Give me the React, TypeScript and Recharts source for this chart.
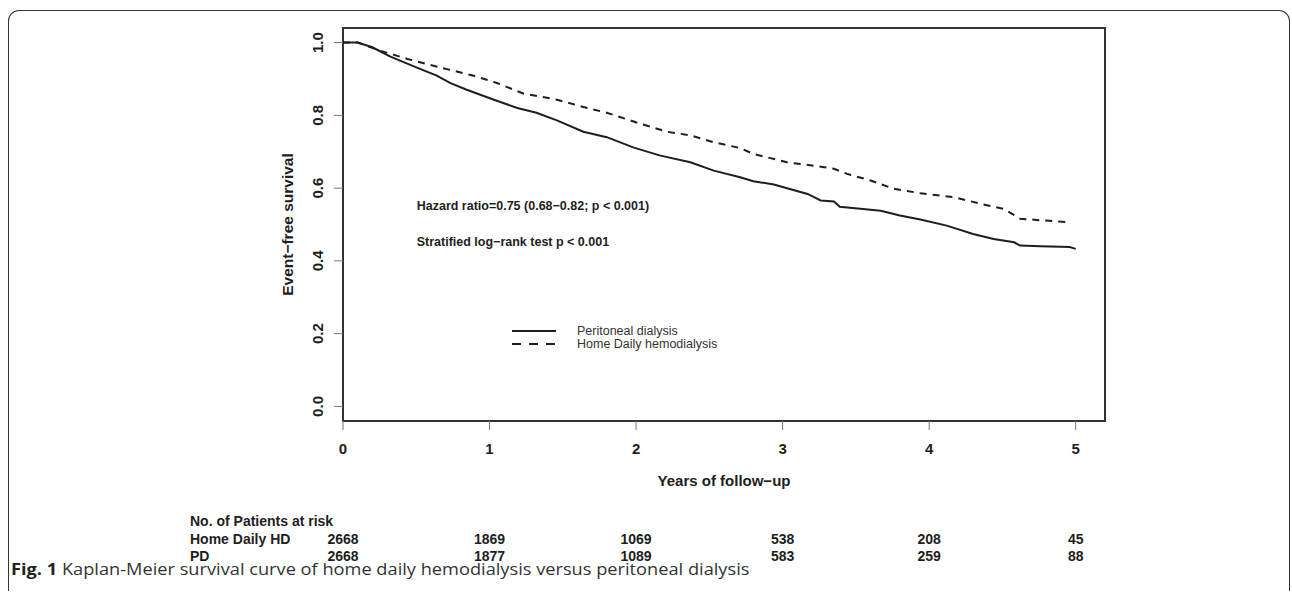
import React from 'react';
import {
  LineChart,
  Line,
  XAxis,
  YAxis,
  ReferenceArea,
  ReferenceDot,
  Legend,
} from 'recharts';

// Kaplan-Meier curves (years, event-free survival)
const pdYears = [0, 0.1, 0.2, 0.32, 0.5, 0.64, 0.73, 0.84, 1.03, 1.19, 1.32, 1.46, 1.64, 1.8, 1.98, 2.16, 2.37, 2.53, 2.71, 2.8, 2.94, 3.17, 3.26, 3.35, 3.39, 3.67, 3.8, 3.94, 4.12, 4.3, 4.44, 4.58, 4.62, 4.76, 4.96, 5.0];
const pdSurvival = [1.0, 1.0, 0.987, 0.962, 0.932, 0.909, 0.889, 0.871, 0.843, 0.82, 0.807, 0.786, 0.755, 0.74, 0.712, 0.69, 0.671, 0.648, 0.63, 0.619, 0.61, 0.584, 0.566, 0.563, 0.549, 0.538, 0.525, 0.514, 0.497, 0.474, 0.46, 0.451, 0.442, 0.44, 0.438, 0.433];

const hdYears = [0, 0.1, 0.18, 0.25, 0.44, 0.66, 0.89, 1.05, 1.23, 1.46, 1.64, 1.8, 2.03, 2.21, 2.37, 2.53, 2.71, 2.8, 3.03, 3.26, 3.35, 3.44, 3.6, 3.76, 3.94, 4.17, 4.35, 4.51, 4.62, 4.75, 4.96];
const hdSurvival = [1.0, 1.0, 0.988, 0.978, 0.955, 0.932, 0.909, 0.889, 0.86, 0.843, 0.823, 0.807, 0.777, 0.755, 0.745, 0.726, 0.71, 0.694, 0.671, 0.659, 0.653, 0.639, 0.621, 0.598, 0.586, 0.575, 0.557, 0.543, 0.516, 0.512, 0.506];

const yearTicks = [0, 1, 2, 3, 4, 5];
const survivalTicks = [0, 0.2, 0.4, 0.6, 0.8, 1.0];

// number at risk at each tick year
const hdAtRisk = [2668, 1869, 1069, 538, 208, 45];
const pdAtRisk = [2668, 1877, 1089, 583, 259, 88];

const pdName = 'Peritoneal dialysis';
const hdName = 'Home Daily hemodialysis';
const legendOrder = [pdName, hdName];

const pdData = pdYears.map((t, i) => ({ t, s: pdSurvival[i] }));
const hdData = hdYears.map((t, i) => ({ t, s: hdSurvival[i] }));
const hdRiskData = yearTicks.map((t, i) => ({ t, n: hdAtRisk[i] }));
const pdRiskData = yearTicks.map((t, i) => ({ t, n: pdAtRisk[i] }));

const FONT = '"Liberation Sans", Arial, Helvetica, sans-serif';
const INK = '#1e1e1e';
const HD_DASH = '7 6';

const YTick = ({ x, y, payload }: any) => (
  <text
    x={x}
    y={y}
    transform={`rotate(-90, ${x}, ${y})`}
    textAnchor="middle"
    fontFamily={FONT}
    fontWeight="bold"
    fontSize={15}
    fill={INK}
  >
    {Number(payload.value).toFixed(1)}
  </text>
);

const riskTick = (counts: number[], rowLabel: string, header?: string) => ({ x, y, payload }: any) => {
  const i = Math.round(payload.value);
  const txt = { fontFamily: FONT, fontWeight: 'bold' as const, fontSize: 14, fill: INK };
  return (
    <g>
      {i === 0 && header && (
        <text x={x - 153} y={y + 25} textAnchor="start" {...txt}>{header}</text>
      )}
      {i === 0 && (
        <text x={x - 153} y={y + 43} textAnchor="start" {...txt}>{rowLabel}</text>
      )}
      <text x={x} y={y + 43} textAnchor="middle" {...txt}>{counts[i]}</text>
    </g>
  );
};

const renderLegend = ({ payload }: any) => {
  const items = (payload || [])
    .filter((e: any) => legendOrder.includes(e.value))
    .sort((a: any, b: any) => legendOrder.indexOf(a.value) - legendOrder.indexOf(b.value));
  return (
    <div style={{ fontFamily: FONT, fontSize: 12.5, color: '#333' }}>
      {items.map((entry: any) => (
        <div key={entry.value} style={{ display: 'flex', alignItems: 'center', height: 13.5 }}>
          <svg width={44} height={6} style={{ marginRight: 21 }}>
            <line
              x1={0}
              x2={44}
              y1={3}
              y2={3}
              stroke={INK}
              strokeWidth={2}
              strokeDasharray={entry.value === hdName ? '9 8' : undefined}
            />
          </svg>
          <span>{entry.value}</span>
        </div>
      ))}
    </div>
  );
};

export default function App() {
  return (
    <div style={{ position: 'absolute', left: 0, top: 0, width: 1292, height: 603, background: '#fff', overflow: 'hidden' }}>
      <div
        style={{
          position: 'absolute',
          left: 8,
          top: 10,
          width: 1280,
          height: 580,
          borderTop: '1.5px solid #333',
          borderLeft: '1.5px solid #333',
          borderRight: '1.5px solid #333',
          borderTopLeftRadius: 11,
          borderTopRightRadius: 11,
        }}
      />
      <div style={{ position: 'absolute', left: 0, top: 0 }}>
        <LineChart width={1292} height={603} margin={{ top: 28, right: 187, left: 231, bottom: 45 }}>
          <XAxis
            dataKey="t"
            type="number"
            domain={[0, 5.2]}
            ticks={yearTicks}
            allowDataOverflow
            height={80}
            axisLine={false}
            tickSize={9}
            tickMargin={13}
            tickLine={{ stroke: '#777', strokeWidth: 1 }}
            tick={{ fontFamily: FONT, fontWeight: 'bold', fontSize: 15, fill: INK }}
            label={{
              value: 'Years of follow−up',
              position: 'insideBottom',
              offset: 15,
              fontFamily: FONT,
              fontWeight: 'bold',
              fontSize: 15,
              fill: INK,
            }}
          />
          <XAxis
            xAxisId="hd"
            dataKey="t"
            type="number"
            domain={[0, 5.2]}
            ticks={yearTicks}
            allowDataOverflow
            height={17}
            axisLine={false}
            tickLine={false}
            tickSize={0}
            tickMargin={0}
            interval={0}
            tick={riskTick(hdAtRisk, 'Home Daily HD', 'No. of Patients at risk')}
          />
          <XAxis
            xAxisId="pd"
            dataKey="t"
            type="number"
            domain={[0, 5.2]}
            ticks={yearTicks}
            allowDataOverflow
            height={40}
            axisLine={false}
            tickLine={false}
            tickSize={0}
            tickMargin={0}
            interval={0}
            tick={riskTick(pdAtRisk, 'PD')}
          />
          <YAxis
            type="number"
            domain={[-0.04, 1.04]}
            ticks={survivalTicks}
            allowDataOverflow
            width={112}
            axisLine={false}
            tickSize={9}
            tickMargin={11}
            tickLine={{ stroke: '#777', strokeWidth: 1 }}
            tick={<YTick />}
            label={{
              value: 'Event−free survival',
              angle: -90,
              position: 'center',
              fontFamily: FONT,
              fontWeight: 'bold',
              fontSize: 15.5,
              fill: INK,
            }}
          />
          <YAxis yAxisId="risk" hide domain={[0, 3000]} />
          <ReferenceArea x1={0} x2={5.2} y1={-0.04} y2={1.04} fill="none" stroke="#333" strokeWidth={2} />
          <ReferenceDot
            x={0.503}
            y={0.552}
            r={0}
            fill="none"
            stroke="none"
            label={{
              value: 'Hazard ratio=0.75 (0.68−0.82; p < 0.001)',
              position: 'right',
              offset: 0,
              fontFamily: FONT,
              fontWeight: 'bold',
              fontSize: 12.5,
              fill: INK,
            }}
          />
          <ReferenceDot
            x={0.503}
            y={0.452}
            r={0}
            fill="none"
            stroke="none"
            label={{
              value: 'Stratified log−rank test p < 0.001',
              position: 'right',
              offset: 0,
              fontFamily: FONT,
              fontWeight: 'bold',
              fontSize: 12.5,
              fill: INK,
            }}
          />
          <Line
            data={pdData}
            dataKey="s"
            name={pdName}
            type="linear"
            stroke={INK}
            strokeWidth={2}
            dot={false}
            isAnimationActive={false}
          />
          <Line
            data={hdData}
            dataKey="s"
            name={hdName}
            type="linear"
            stroke={INK}
            strokeWidth={2}
            strokeDasharray={HD_DASH}
            dot={false}
            isAnimationActive={false}
          />
          {/* invisible series that carry the at-risk table axes */}
          <Line
            xAxisId="hd"
            yAxisId="risk"
            data={hdRiskData}
            dataKey="n"
            stroke="none"
            dot={false}
            legendType="none"
            isAnimationActive={false}
          />
          <Line
            xAxisId="pd"
            yAxisId="risk"
            data={pdRiskData}
            dataKey="n"
            stroke="none"
            dot={false}
            legendType="none"
            isAnimationActive={false}
          />
          <Legend
            layout="vertical"
            align="center"
            verticalAlign="middle"
            content={renderLegend}
            wrapperStyle={{ left: 512, top: 324, width: 220 }}
          />
        </LineChart>
      </div>
      <div
        style={{
          position: 'absolute',
          left: 11,
          top: 562.5,
          lineHeight: '12px',
          fontFamily: '"Open Sans", sans-serif',
          fontSize: 15.5,
          color: '#333',
          whiteSpace: 'nowrap',
          transform: 'scaleX(1.175)',
          transformOrigin: 'left center',
        }}
      >
        <b style={{ color: '#222' }}>Fig. 1</b> Kaplan-Meier survival curve of home daily hemodialysis versus peritoneal dialysis
      </div>
    </div>
  );
}
